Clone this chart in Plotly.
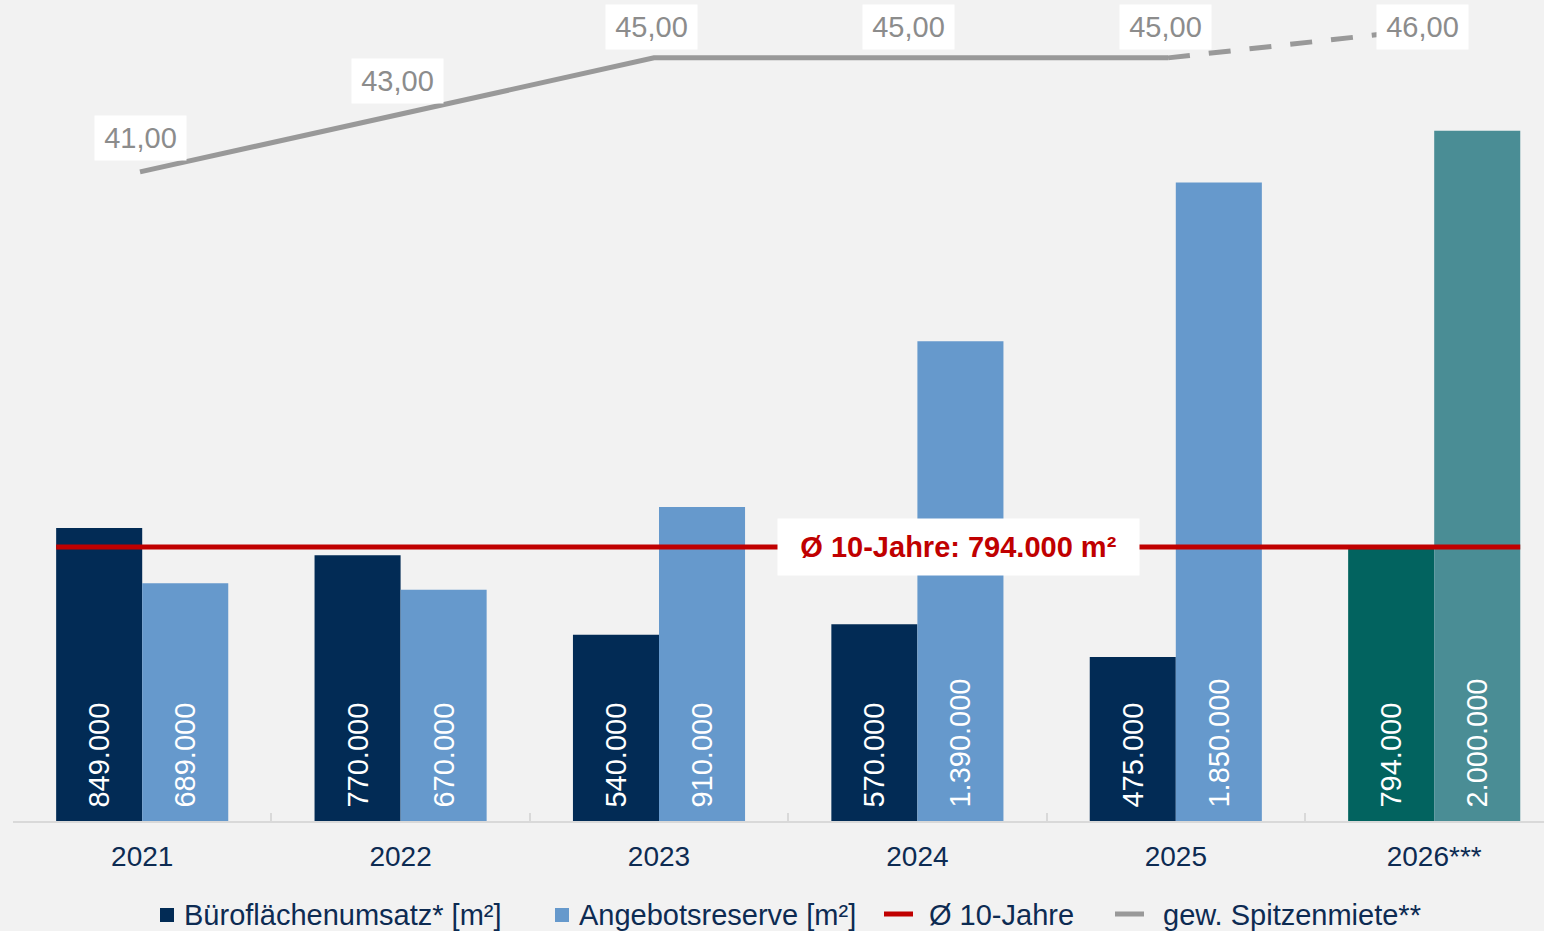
import plotly.graph_objects as go

# --- data -------------------------------------------------------------
years = ["2021", "2022", "2023", "2024", "2025", "2026***"]
umsatz = [849000, 770000, 540000, 570000, 475000, 794000]          # Büroflächenumsatz [m²]
reserve = [689000, 670000, 910000, 1390000, 1850000, 2000000]      # Angebotsreserve [m²]
miete = [41.00, 43.00, 45.00, 45.00, 45.00, 46.00]                 # gew. Spitzenmiete [€/m²]
avg10 = 794000                                                     # Ø 10-Jahre [m²]

legend_names = ["Büroflächenumsatz* [m²]", "Angebotsreserve [m²]", "Ø 10-Jahre", "gew. Spitzenmiete**"]

# --- styling ----------------------------------------------------------
NAVY = "#022B55"
BLUE = "#6699CC"
TEAL_DARK = "#02635F"
TEAL_LIGHT = "#4A8D95"
RED = "#C00000"
GREY = "#999999"
TXT = "#0D2B52"
BG = "#F2F2F2"
FONT = "Liberation Sans, Arial, sans-serif"
FS = 29
LEAD = "\u00a0\u200a"   # small lead-in so the rotated labels sit off the baseline

W, H = 1544, 931
L, R, T, B = 13, 0, 0, 110
PLOT_W, PLOT_H = W - L - R, H - T - B
CAT_W = 258.4        # px per category for the bars
LINE_CAT_W = 257.0   # px per category for the rent line axis
LINE_X0 = 140        # px position of the first rent point


def xp(px):
    return (px - L) / PLOT_W


def yp(py):
    return (H - B - py) / PLOT_H


def de_int(v):
    return f"{v:,}".replace(",", ".")


def de_dec(v):
    return f"{v:.2f}".replace(".", ",")


n = len(years)
umsatz_colors = [NAVY] * (n - 1) + [TEAL_DARK]
reserve_colors = [BLUE] * (n - 1) + [TEAL_LIGHT]

fig = go.Figure()

bar_label_font = dict(color="white", size=FS, family=FONT)
fig.add_trace(go.Bar(
    x=years, y=umsatz, name=legend_names[0],
    marker=dict(color=umsatz_colors, line=dict(width=0)),
    text=[LEAD + de_int(v) for v in umsatz],
    textposition="inside", textangle=-90, insidetextanchor="start",
    insidetextfont=bar_label_font, hoverinfo="skip",
))
fig.add_trace(go.Bar(
    x=years, y=reserve, name=legend_names[1],
    marker=dict(color=reserve_colors, line=dict(width=0)),
    text=[LEAD + de_int(v) for v in reserve],
    textposition="inside", textangle=-90, insidetextanchor="start",
    insidetextfont=bar_label_font, hoverinfo="skip",
))

# rent line: solid for actual years, dashed towards the forecast
fig.add_trace(go.Scatter(
    x=years[:n - 1], y=miete[:n - 1], xaxis="x2", yaxis="y2", mode="lines",
    line=dict(color=GREY, width=5), hoverinfo="skip",
))
fig.add_trace(go.Scatter(
    x=years[n - 2:], y=miete[n - 2:], xaxis="x2", yaxis="y2", mode="lines",
    line=dict(color=GREY, width=5, dash="22px,19px"), hoverinfo="skip",
))

BARGAP = 0.334
half_group = (1 - BARGAP) / 2

shapes = [
    # 10-year average
    dict(type="line", xref="x", yref="y", x0=0 - half_group, x1=(n - 1) + half_group,
         y0=avg10, y1=avg10, line=dict(color=RED, width=5), layer="above"),
]

annotations = [
    dict(xref="x", yref="y", x=3.16, y=avg10,
         text=f"<b>Ø 10-Jahre: {de_int(avg10)} m²</b>",
         font=dict(color=RED, size=FS, family=FONT),
         bgcolor="white", width=359, height=54, showarrow=False,
         xanchor="center", yanchor="middle"),
]

# rent value labels (placed above each point, kept below the top edge)
Y2_MIN, Y2_MAX = 18.23, 47.03
label_lift = 34
label_top = 27
for i, v in enumerate(miete):
    px_y = (Y2_MAX - v) / (Y2_MAX - Y2_MIN) * PLOT_H
    at_top = px_y - label_lift < label_top
    label_py = label_top if at_top else px_y - label_lift
    annotations.append(dict(
        xref="x2", yref="paper", x=i, y=yp(label_py),
        xshift=-3 if at_top else 0,
        xanchor="center", yanchor="middle",
        text=de_dec(v), font=dict(color="#8C8C8C", size=FS, family=FONT),
        bgcolor="white", width=89, height=42, showarrow=False,
    ))

# custom legend row
LEG_Y = 915
leg_font = dict(color=TXT, size=FS, family=FONT)
legend_items = [
    ("square", NAVY, 160, 182),
    ("square", BLUE, 555, 577),
    ("line", RED, 884, 927),
    ("line", GREY, 1115, 1161),
]
for (kind, col, sx, tx), name in zip(legend_items, legend_names):
    if kind == "square":
        shapes.append(dict(type="rect", xref="paper", yref="paper",
                           x0=xp(sx), x1=xp(sx + 14), y0=yp(LEG_Y - 7), y1=yp(LEG_Y + 7),
                           fillcolor=col, line=dict(width=0)))
    else:
        shapes.append(dict(type="line", xref="paper", yref="paper",
                           x0=xp(sx), x1=xp(sx + 29), y0=yp(LEG_Y - 1), y1=yp(LEG_Y - 1),
                           line=dict(color=col, width=5)))
    annotations.append(dict(xref="paper", yref="paper", x=xp(tx), y=yp(LEG_Y),
                            xanchor="left", yanchor="middle", text=name,
                            font=leg_font, showarrow=False))

Y1_TOP = PLOT_H * 2897.7
x2_start = -(LINE_X0 - L) / LINE_CAT_W

fig.update_layout(
    width=W, height=H,
    margin=dict(l=L, r=R, t=T, b=B, pad=0),
    paper_bgcolor=BG, plot_bgcolor=BG,
    barmode="group", bargap=BARGAP, bargroupgap=0,
    showlegend=False,
    font=dict(family=FONT),
    xaxis=dict(
        type="category", range=[-0.5, -0.5 + PLOT_W / CAT_W],
        showline=True, linecolor="#D9D9D9", linewidth=2,
        ticks="inside", tickson="boundaries", ticklen=8, tickwidth=2, tickcolor="#D9D9D9",
        tickfont=dict(color=TXT, size=FS - 1, family=FONT), ticklabelstandoff=9,
        showgrid=False, zeroline=False,
    ),
    xaxis2=dict(
        type="category", overlaying="x", visible=False,
        range=[x2_start, x2_start + PLOT_W / LINE_CAT_W],
        showgrid=False, zeroline=False,
    ),
    yaxis=dict(range=[0, Y1_TOP], visible=False, showgrid=False, zeroline=False),
    yaxis2=dict(range=[Y2_MIN, Y2_MAX], overlaying="y", visible=False,
                showgrid=False, zeroline=False),
    shapes=shapes,
    annotations=annotations,
)

fig.write_html("out.html")
